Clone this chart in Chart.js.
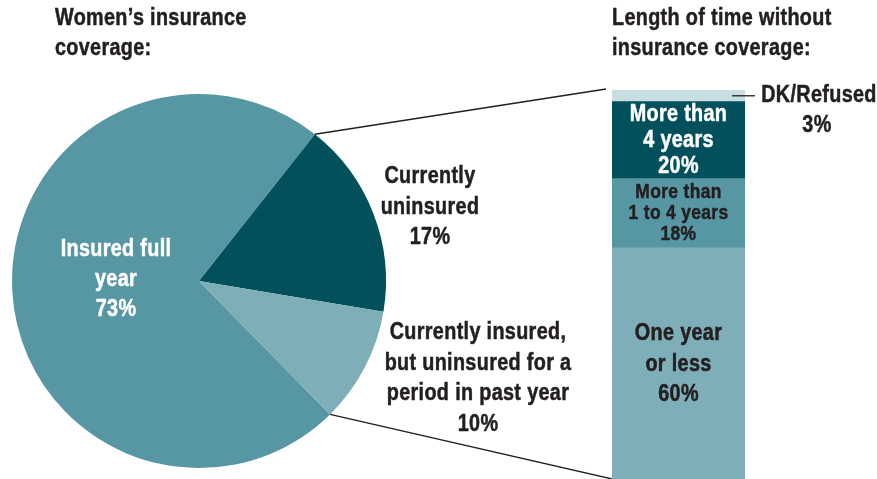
<!DOCTYPE html>
<html>
<head>
<meta charset="utf-8">
<script src="https://cdn.jsdelivr.net/npm/chart.js@4.4.1/dist/chart.umd.min.js"></script>
<style>
  html, body { margin: 0; padding: 0; background: #fff; }
  #wrap { position: relative; width: 877px; height: 479px; }
  #wrap canvas { position: absolute; left: 0; top: 0; }
</style>
</head>
<body>
<div id="wrap">
  <canvas id="pie" width="877" height="479"></canvas>
  <canvas id="bar" width="877" height="479"></canvas>
</div>
<script>
// pie: women's insurance coverage
const pieLabels = ['Insured full year', 'Currently uninsured', 'Currently insured, but uninsured for a period in past year'];
const pieValues = [73, 17, 10];
const pieColors = ['#5797a3', '#02505c', '#7eaeb8'];

// stacked bar: length of time without coverage (bottom to top)
const barLabels = ['One year or less', 'More than 1 to 4 years', 'More than 4 years', 'DK/Refused'];
const barValues = [60, 18, 20, 3];
const barColors = ['#7eaeb8', '#5797a3', '#02505c', '#c9dee1'];

const FONT = "'Liberation Sans', Arial, sans-serif";
const TEXT = '#231f20';

// draws a block of text lines, squeezed horizontally for a condensed look
function lines(ctx, arr, x, y, step, size, color, align) {
    ctx.save();
    ctx.font = 'bold ' + size + 'px ' + FONT;
    ctx.letterSpacing = '0.4px';
    ctx.fillStyle = color;
    ctx.strokeStyle = color;
    ctx.lineWidth = 0.5;
    ctx.textAlign = align || 'center';
    ctx.textBaseline = 'middle';
    ctx.translate(x, y);
    ctx.scale(size < 22 ? 0.83 : 0.86, 1);
    arr.forEach((t, i) => {
        ctx.fillText(t, 0, i * step);
        ctx.strokeText(t, 0, i * step);
    });
    ctx.restore();
}

const pieChart = new Chart(document.getElementById('pie'), {
    type: 'pie',
    data: {
        labels: pieLabels,
        datasets: [{ data: pieValues, backgroundColor: pieColors, borderWidth: 0 }]
    },
    options: {
        responsive: false,
        animation: false,
        rotation: 135.5,
        layout: { padding: { left: 12, top: 94, right: 491, bottom: 11 } },
        plugins: { legend: { display: false }, tooltip: { enabled: false } }
    }
});

const overlay = {
    id: 'overlay',
    afterDraw(chart) {
        const ctx = chart.ctx;
        const arcs = pieChart.getDatasetMeta(0).data;
        const top = chart.getDatasetMeta(3).data[0];
        const bottom = chart.getDatasetMeta(0).data[0];
        const left = top.x - top.width / 2;
        const right = top.x + top.width / 2;

        // connector lines from the uninsured slices to the bar
        const pc = arcs[1];
        const r = pc.outerRadius;
        const a1 = arcs[1].startAngle;
        const a2 = arcs[2].endAngle;
        ctx.save();
        ctx.strokeStyle = '#231f20';
        ctx.lineWidth = 1.3;
        ctx.beginPath();
        ctx.moveTo(pc.x + r * Math.cos(a1), pc.y + r * Math.sin(a1));
        ctx.lineTo(left - 6, top.y - 1);
        ctx.moveTo(pc.x + r * Math.cos(a2), pc.y + r * Math.sin(a2));
        ctx.lineTo(left, bottom.base);
        ctx.stroke();

        // DK/Refused leader
        const dkY = (top.y + top.base) / 2;
        ctx.beginPath();
        ctx.moveTo(right - 13, dkY);
        ctx.lineTo(right + 10, dkY);
        ctx.stroke();
        ctx.restore();

        // titles
        lines(ctx, ['Women\u2019s insurance', 'coverage:'], 55, 19, 30, 23, TEXT, 'left');
        lines(ctx, ['Length of time without', 'insurance coverage:'], 612, 19, 30, 23, TEXT, 'left');

        // pie labels
        const cx = pc.x, cy = pc.y;
        lines(ctx, ['Insured full', 'year', pieValues[0] + '%'], cx - 83, cy - 31, 30, 23, '#fff');
        lines(ctx, ['Currently', 'uninsured', pieValues[1] + '%'], 430, 177, 30.5, 23, TEXT);
        lines(ctx, ['Currently insured,', 'but uninsured for a', 'period in past year', pieValues[2] + '%'], 478, 333, 30.5, 23, TEXT);

        // bar labels
        const bx = top.x;
        const b2 = chart.getDatasetMeta(2).data[0];
        const b1 = chart.getDatasetMeta(1).data[0];
        lines(ctx, ['More than', '4 years', barValues[2] + '%'], bx, (b2.y + b2.base) / 2 - 25, 26, 23, '#fff');
        lines(ctx, ['More than', '1 to 4 years', barValues[1] + '%'], bx, (b1.y + b1.base) / 2 - 21, 21, 21, TEXT);
        lines(ctx, ['One year', 'or less', barValues[0] + '%'], bx, 334, 30.5, 23, TEXT);
        lines(ctx, ['DK/Refused'], right + 74, dkY, 0, 23, TEXT);
        lines(ctx, [barValues[3] + '%'], right + 72, dkY + 30, 0, 23, TEXT);
    }
};

new Chart(document.getElementById('bar'), {
    type: 'bar',
    data: {
        labels: [''],
        datasets: barValues.map((v, i) => ({
            label: barLabels[i],
            data: [v],
            backgroundColor: barColors[i],
            borderWidth: 0,
            barPercentage: 1,
            categoryPercentage: 1
        }))
    },
    options: {
        responsive: false,
        animation: false,
        layout: { padding: { left: 612, top: 90, right: 132, bottom: 0 } },
        scales: {
            x: { stacked: true, display: false },
            y: { stacked: true, display: false, min: 0, max: 101 }
        },
        plugins: { legend: { display: false }, tooltip: { enabled: false } }
    },
    plugins: [overlay]
});
</script>
</body>
</html>
